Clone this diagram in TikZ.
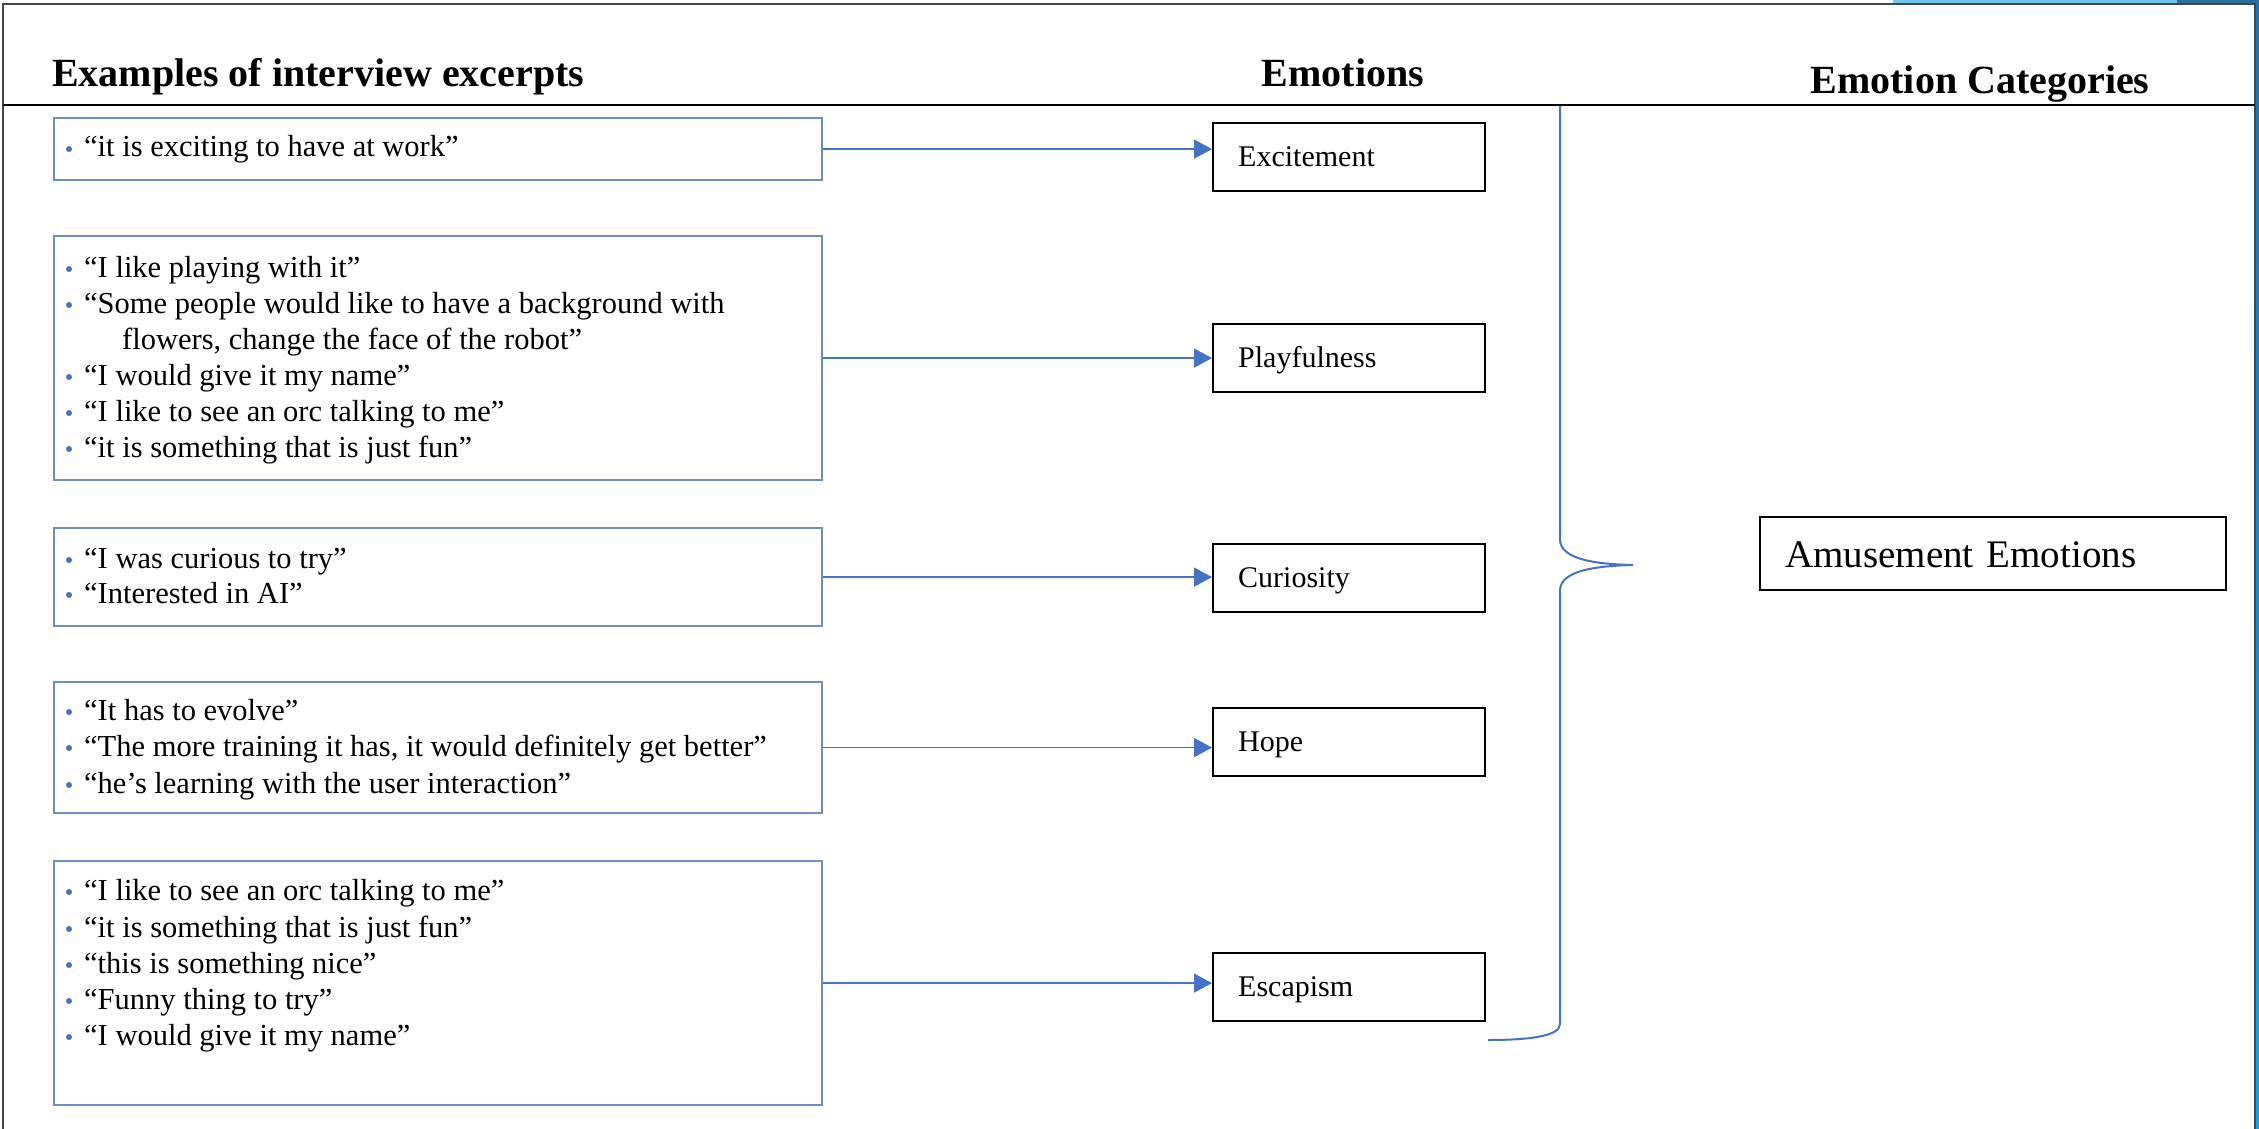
\documentclass[tikz,border=0pt]{standalone}
\usepackage{fontspec}
\setmainfont{Liberation Serif}
\usetikzlibrary{arrows.meta}
\definecolor{boxblue}{RGB}{108,142,202}
\definecolor{arrblue}{RGB}{68,114,196}
\definecolor{bullblue}{RGB}{68,114,196}
\definecolor{framegray}{RGB}{70,70,70}
\definecolor{skyA}{RGB}{110,200,235}
\definecolor{skyB}{RGB}{40,110,160}
\definecolor{skyC}{RGB}{30,160,220}
\begin{document}
\begin{tikzpicture}[x=1pt,y=-1pt,
  hdr/.style={font=\fontsize{40}{44}\selectfont\bfseries, inner sep=0, anchor=base},
  exbox/.style={draw=boxblue, line width=2.2pt, anchor=north west, inner sep=0, minimum width=768pt},
  ln/.style={font=\fontsize{30.5}{34}\selectfont, inner sep=0, anchor=base west},
  emo/.style={draw=black, line width=2.4pt, anchor=north west, inner xsep=25pt, inner ysep=0pt,
    text width=222pt, align=left, minimum height=68pt, text height=22pt, text depth=3pt,
    font=\fontsize{30}{34}\selectfont},
  conn/.style={draw=arrblue, line width=1.6pt, -{Triangle[length=18pt,width=19pt]}},
  brace/.style={draw=arrblue, line width=2pt}
]
\useasboundingbox (0,0) rectangle (2259,1129);
\fill[white] (0,0) rectangle (2259,1129);
% slide artifacts
\fill[skyA] (1893,0) rectangle (2177,3);
\fill[skyB] (2177,0) rectangle (2259,3);
\shade[top color=skyB, bottom color=skyC] (2256,0) rectangle (2259,1129);
% frame
\draw[framegray, line width=2pt] (3,1129) -- (3,4) -- (2255,4) -- (2255,1129);
\draw[black, line width=1.5pt] (3,105) -- (2255,105);
% headers
\node[hdr, anchor=base west] (h1) at (52,87) {Examples of interview excerpts};
\node[hdr] (h2) at (1343,87) {Emotions};
\node[hdr] (h3) at (1980,94) {Emotion Categories};
% excerpt boxes
\node[exbox, minimum height=62pt] (x1) at (53,117) {};
\node[exbox, minimum height=244pt] (x2) at (53,235) {};
\node[exbox, minimum height=98pt] (x3) at (53,527) {};
\node[exbox, minimum height=131pt] (x4) at (53,681) {};
\node[exbox, minimum height=244pt] (x5) at (53,860) {};
% excerpt lines
\node[ln] (l11) at (84,157) {“it is exciting to have at work”};
\node[ln] (l21) at (84,277) {“I like playing with it”};
\node[ln] (l22) at (84,313) {“Some people would like to have a background with};
\node[ln] (l23) at (122,349) {flowers, change the face of the robot”};
\node[ln] (l24) at (84,385) {“I would give it my name”};
\node[ln] (l25) at (84,421) {“I like to see an orc talking to me”};
\node[ln] (l26) at (84,457) {“it is something that is just fun”};
\node[ln] (l31) at (84,568) {“I was curious to try”};
\node[ln] (l32) at (84,603) {“Interested in AI”};
\node[ln] (l41) at (84,720) {“It has to evolve”};
\node[ln] (l42) at (84,756) {“The more training it has, it would definitely get better”};
\node[ln] (l43) at (84,793) {“he’s learning with the user interaction”};
\node[ln] (l51) at (84,900) {“I like to see an orc talking to me”};
\node[ln] (l52) at (84,937) {“it is something that is just fun”};
\node[ln] (l53) at (84,973) {“this is something nice”};
\node[ln] (l54) at (84,1009) {“Funny thing to try”};
\node[ln] (l55) at (84,1045) {“I would give it my name”};
% bullets
\foreach \n in {l11,l21,l22,l24,l25,l26,l31,l32,l41,l42,l43,l51,l52,l53,l54,l55}
  \fill[bullblue] ([xshift=-15pt,yshift=8pt]\n.base west) circle (3pt);
% emotion boxes
\node[emo] (e1) at (1212,122) {Excitement};
\node[emo] (e2) at (1212,323) {Playfulness};
\node[emo] (e3) at (1212,543) {Curiosity};
\node[emo] (e4) at (1212,707) {Hope};
\node[emo] (e5) at (1212,952) {Escapism};
% connectors
\draw[conn] (x1.east) -- (x1.east -| e1.west);
\draw[conn] (x2.east) -- (x2.east -| e2.west);
\draw[conn] (x3.east) -- (x3.east -| e3.west);
\draw[conn] (x4.east) -- (x4.east -| e4.west);
\draw[conn] (x5.east) -- (x5.east -| e5.west);
% brace
\coordinate (tip) at (1633,565);
\draw[brace] (1560,106) -- (1560,540) .. controls (1561,558) and (1590,564) .. (tip)
  .. controls (1590,566) and (1561,572) .. (1560,590) -- (1560,1024)
  .. controls (1560,1036) and (1530,1040) .. (1488,1040);
% category
\node[emo, minimum height=73pt, text width=416pt, text height=27pt, text depth=0pt,
  font=\fontsize{39}{44}\selectfont] (am) at (1759,516) {Amusement Emotions};
\end{tikzpicture}
\end{document}
